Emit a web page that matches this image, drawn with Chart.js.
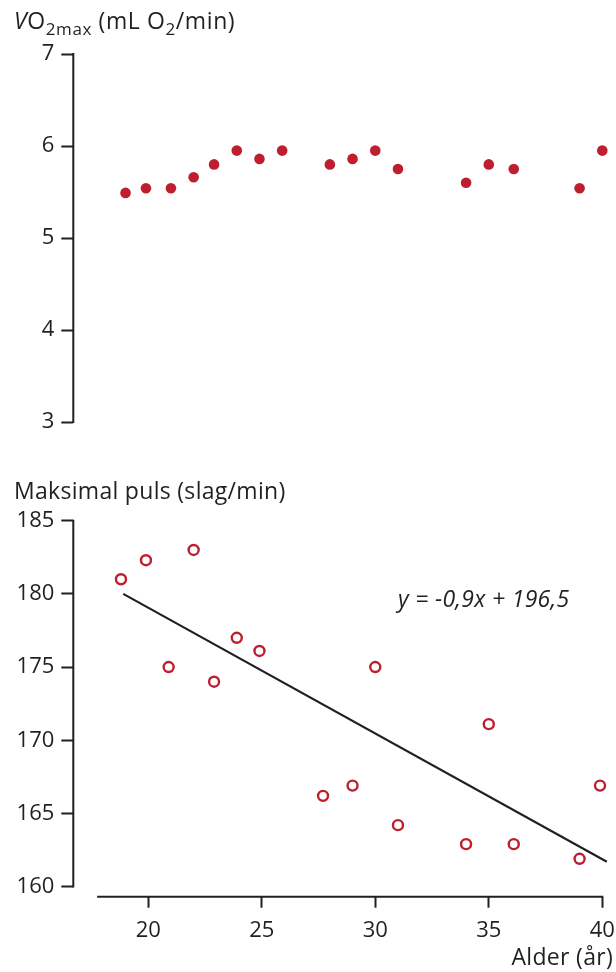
<!DOCTYPE html>
<html lang="no">
<head>
<meta charset="UTF-8">
<title>VO2max og maksimal puls</title>
<script src="https://cdn.jsdelivr.net/npm/chart.js@4.4.1/dist/chart.umd.min.js"></script>
<style>
  body { margin: 0; background: #fff; font-family: 'Open Sans', sans-serif; color: #231f20; }
  .wrap { position: relative; width: 616px; height: 972px; overflow: hidden; }
  canvas { position: absolute; left: 0; }
  #vo2 { top: 0; }
  #puls { top: 460px; }
  .lbl { position: absolute; font-size: 23px; line-height: 1; white-space: nowrap; letter-spacing: 0.3px; }
  .lbl sub { font-size: 17px; vertical-align: -6px; line-height: 0; }
  #t-vo2 { left: 14px; top: 9px; letter-spacing: 0.6px; }
  #t-puls { left: 14px; top: 479px; }
  #eq { left: 398px; top: 587px; font-style: italic; letter-spacing: 0.3px; }
  #t-age { right: 3px; top: 945px; }
</style>
</head>
<body>
<div class="wrap">
  <canvas id="vo2" width="616" height="440"></canvas>
  <canvas id="puls" width="616" height="512"></canvas>
  <div class="lbl" id="t-vo2"><i>V</i>O<sub>2max</sub> (mL O<sub>2</sub>/min)</div>
  <div class="lbl" id="t-puls">Maksimal puls (slag/min)</div>
  <div class="lbl" id="eq">y = -0,9x + 196,5</div>
  <div class="lbl" id="t-age">Alder (år)</div>
</div>
<script>
  // values
  const vo2Age = [19, 19.9, 21, 22, 22.9, 23.9, 24.9, 25.9, 28, 29, 30, 31, 34, 35, 36.1, 39, 40];
  const vo2Max = [5.49, 5.54, 5.54, 5.66, 5.80, 5.95, 5.86, 5.95, 5.80, 5.86, 5.95, 5.75, 5.60, 5.80, 5.75, 5.54, 5.95];
  const pulsAge = [18.8, 19.9, 20.9, 22, 22.9, 23.9, 24.9, 27.7, 29, 30, 31, 34, 35, 36.1, 39, 39.9];
  const pulsMax = [181, 182.3, 175, 183, 174, 177, 176.1, 166.2, 166.9, 175, 164.2, 162.9, 171.1, 162.9, 161.9, 166.9];
  const trendAge = [18.9, 40.2];
  const trendPuls = [180, 161.7];
  const vo2Ticks = [3, 4, 5, 6, 7];
  const pulsTicks = [160, 165, 170, 175, 180, 185];
  const ageTicks = [20, 25, 30, 35, 40];
  const ageAxisStart = 17.75;

  const ink = '#231f20';
  const red = '#be1e2d';
  const font = { family: "'Open Sans', sans-serif", size: 22 };

  const toXY = (xs, ys) => xs.map((x, i) => ({ x: x, y: ys[i] }));

  // axis lines drawn only over the span they cover in the figure
  const axisLines = {
    id: 'axisLines',
    afterDraw(chart, args, opts) {
      const ctx = chart.ctx, xs = chart.scales.x, ys = chart.scales.y;
      const left = chart.chartArea.left;
      ctx.save();
      ctx.strokeStyle = ink;
      ctx.lineWidth = 2;
      ctx.beginPath();
      ctx.moveTo(left, ys.getPixelForValue(opts.yTicks[opts.yTicks.length - 1]) - 1);
      ctx.lineTo(left, ys.getPixelForValue(opts.yTicks[0]) + 1);
      if (opts.xLine) {
        const yb = chart.chartArea.bottom;
        ctx.moveTo(xs.getPixelForValue(ageAxisStart), yb);
        ctx.lineTo(xs.getPixelForValue(ageTicks[ageTicks.length - 1]) + 1, yb);
      }
      ctx.stroke();
      ctx.restore();
    }
  };

  const yScale = (min, max, ticks) => ({
    min: min, max: max,
    border: { display: false },
    grid: { drawOnChartArea: false, drawTicks: true, tickLength: 12, tickWidth: 2, tickColor: ink },
    ticks: { color: ink, font: font, padding: 7 },
    afterBuildTicks: s => { s.ticks = ticks.map(v => ({ value: v })); },
    afterFit: s => { s.width = 73.3; s.paddingTop = 0; s.paddingBottom = 0; }
  });

  new Chart(document.getElementById('vo2'), {
    type: 'scatter',
    data: {
      datasets: [{
        data: toXY(vo2Age, vo2Max),
        backgroundColor: red, borderColor: red,
        pointRadius: 5.3, borderWidth: 0, clip: false
      }]
    },
    options: {
      responsive: false, animation: false, devicePixelRatio: 1, events: [],
      layout: { padding: { top: 54, bottom: 18, right: 13.7, left: 0 } },
      scales: {
        x: { min: 16.7, max: 40, display: false },
        y: yScale(3, 7, vo2Ticks)
      },
      plugins: { legend: { display: false }, tooltip: { enabled: false }, axisLines: { yTicks: vo2Ticks, xLine: false } }
    },
    plugins: [axisLines]
  });

  new Chart(document.getElementById('puls'), {
    type: 'scatter',
    data: {
      datasets: [{
        type: 'line',
        data: toXY(trendAge, trendPuls),
        borderColor: ink, borderWidth: 2.2, pointRadius: 0, fill: false, clip: false
      }, {
        data: toXY(pulsAge, pulsMax),
        backgroundColor: '#fff', borderColor: red,
        pointRadius: 5, borderWidth: 2.4, clip: false
      }]
    },
    options: {
      responsive: false, animation: false, devicePixelRatio: 1, events: [],
      layout: { padding: { top: 60.7, bottom: 0, right: 13.7, left: 0 } },
      scales: {
        x: {
          min: 16.7, max: 40,
          border: { display: false },
          grid: { drawOnChartArea: false, drawTicks: true, tickLength: 11, tickWidth: 2, tickColor: ink },
          ticks: { color: ink, font: font, padding: 10, maxRotation: 0 },
          afterBuildTicks: s => { s.ticks = ageTicks.map(v => ({ value: v })); },
          afterFit: s => { s.height = 75.3; s.paddingLeft = 0; s.paddingRight = 0; }
        },
        y: yScale(159.31, 185, pulsTicks)
      },
      plugins: { legend: { display: false }, tooltip: { enabled: false }, axisLines: { yTicks: pulsTicks, xLine: true } }
    },
    plugins: [axisLines]
  });
</script>
</body>
</html>
